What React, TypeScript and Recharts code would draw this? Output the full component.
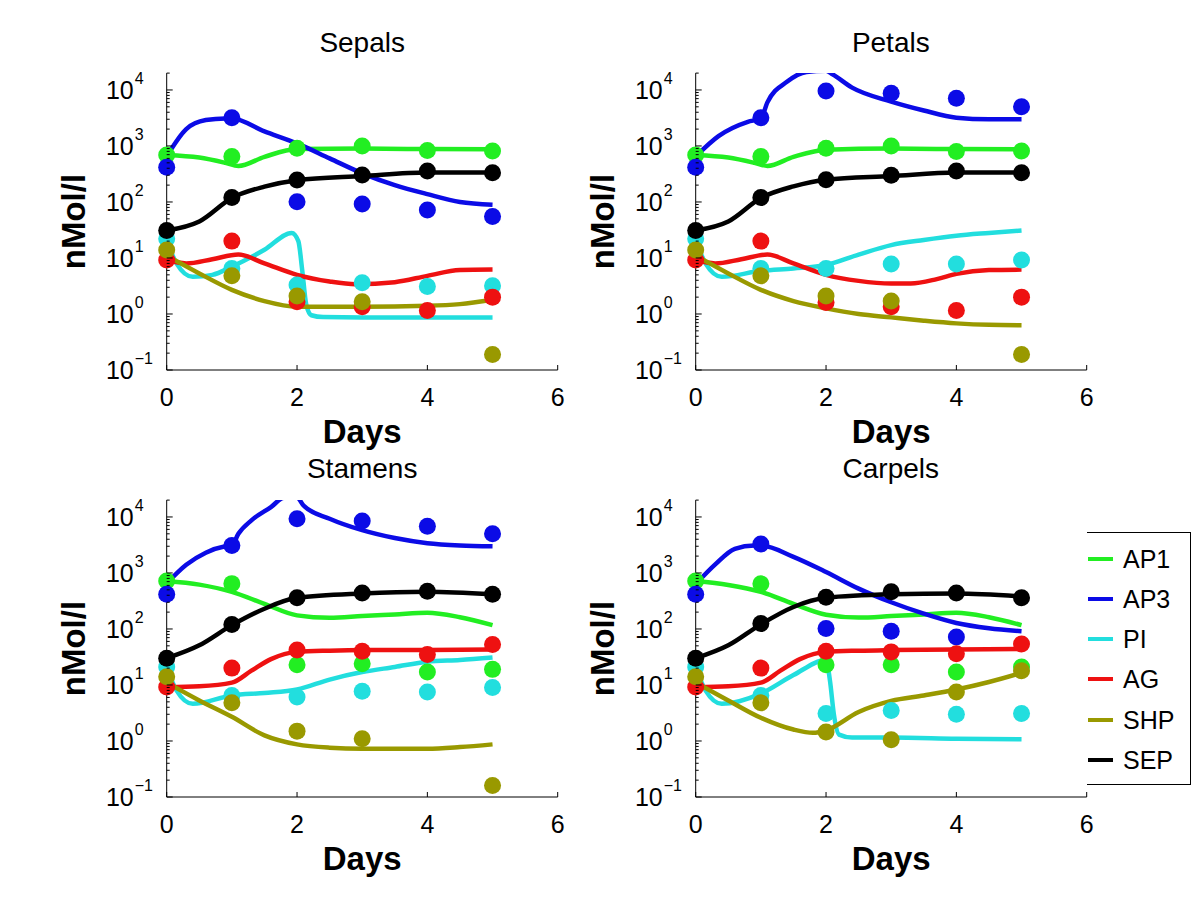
import { LineChart, Line, XAxis, YAxis } from 'recharts';

type Pt = [number, number];

const days = [0, 1, 2, 3, 4, 5];
const species = ['AP1', 'AP3', 'PI', 'AG', 'SHP', 'SEP'];
const colors: Record<string, string> = {
  AP1: '#22ee22',
  AP3: '#0b0be6',
  PI: '#22dede',
  AG: '#ee1111',
  SHP: '#999900',
  SEP: '#000000',
};
const xTicks = [0, 2, 4, 6];
const decades = [0.1, 1, 10, 100, 1000, 10000];
const minorSteps = [2, 3, 4, 5, 6, 7, 8, 9];
const yMax = 20000;

// measured points (one per day, null = no measurement)
const sepalsDots: Record<string, (number | null)[]> = {
  AP1: [690, 650, 910, 1000, 830, 815],
  AP3: [415, 3200, 101, 92, 72, 55],
  PI: [22, 6.5, 3.3, 3.6, 3.1, 3.2],
  AG: [9.2, 20, 1.66, 1.35, 1.15, 2.0],
  SHP: [13.9, 4.8, 2.1, 1.66, null, 0.19],
  SEP: [31, 120, 247, 303, 356, 333],
};
const petalsDots: Record<string, (number | null)[]> = {
  AP1: [690, 650, 910, 1000, 800, 815],
  AP3: [415, 3200, 9600, 8700, 7100, 5000],
  PI: [22, 6.5, 6.5, 7.8, 7.8, 9.2],
  AG: [9.2, 20, 1.6, 1.35, 1.15, 2.0],
  SHP: [13.9, 4.8, 2.1, 1.7, null, 0.19],
  SEP: [31, 120, 250, 300, 356, 333],
};
const stamensDots: Record<string, (number | null)[]> = {
  AP1: [720, 645, 23, 24, 17, 19],
  AP3: [415, 3100, 9300, 8500, 6800, 5000],
  PI: [21, 6.5, 6.1, 7.7, 7.5, 9],
  AG: [9.2, 20, 42, 40, 35, 53],
  SHP: [14, 4.8, 1.5, 1.1, null, 0.16],
  SEP: [30, 120, 360, 440, 470, 415],
};
const carpelsDots: Record<string, (number | null)[]> = {
  AP1: [720, 640, 23, 23, 17, 21],
  AP3: [415, 3300, 102, 91, 72, null],
  PI: [21, 6.5, 3.1, 3.5, 3.0, 3.1],
  AG: [9.2, 20, 40, 39, 36, 54],
  SHP: [14, 4.8, 1.45, 1.05, 7.5, 18],
  SEP: [30, 125, 370, 460, 440, 360],
};

// model curves as [day, nMol/l]
const sepalsCurves: Record<string, Pt[]> = {
  AP1: [[0, 690], [0.5, 620], [0.9, 500], [1.1, 440], [1.5, 640], [2, 880], [3, 900], [4, 880], [5, 870]],
  AP3: [[0, 650], [0.3, 2000], [0.6, 2900], [0.9, 3100], [1, 3100], [1.5, 1820], [2, 1110], [2.5, 600], [3, 325], [3.5, 200], [4, 138], [4.5, 100], [5, 89]],
  PI: [[0, 21], [0.15, 8], [0.4, 4.6], [0.7, 5], [1, 7], [1.5, 14], [1.92, 28], [2.02, 20], [2.08, 6], [2.14, 1.5], [2.22, 0.95], [2.4, 0.88], [3, 0.87], [4, 0.87], [5, 0.87]],
  AG: [[0, 9.2], [0.3, 8], [0.7, 9.5], [1.1, 11.5], [1.5, 8], [2, 5], [2.5, 3.8], [2.9, 3.4], [3.5, 3.7], [4, 4.8], [4.5, 6.1], [5, 6.2]],
  SHP: [[0, 11], [0.5, 5.3], [1, 2.7], [1.5, 1.7], [2, 1.35], [3, 1.35], [4, 1.4], [4.5, 1.5], [5, 1.8]],
  SEP: [[0, 31], [0.5, 45], [1, 118], [1.5, 188], [2, 245], [3, 290], [4, 335], [5, 335]],
};
const petalsCurves: Record<string, Pt[]> = {
  AP1: [[0, 690], [0.5, 620], [0.9, 500], [1.1, 440], [1.5, 640], [2, 860], [3, 900], [4, 880], [5, 870]],
  AP3: [[0, 650], [0.35, 1500], [0.8, 2700], [1, 3100], [1.1, 6000], [1.4, 14000], [1.7, 21000], [2, 22000], [2.1, 19000], [2.4, 11000], [3, 6200], [3.5, 4300], [4, 3200], [4.5, 3000], [5, 3000]],
  PI: [[0, 21], [0.15, 8], [0.4, 4.6], [1, 5.9], [1.5, 6.5], [2, 7.5], [2.5, 11.5], [3, 17], [3.5, 21], [4, 25], [4.5, 28], [5, 31]],
  AG: [[0, 9.2], [0.3, 8], [0.7, 9.5], [1.1, 11.5], [1.5, 8], [2, 5], [2.5, 3.9], [3, 3.5], [3.3, 3.5], [3.7, 4.2], [4, 5.2], [4.5, 6.1], [5, 6.2]],
  SHP: [[0, 11], [0.5, 5.3], [1, 2.7], [1.5, 1.7], [2, 1.26], [2.5, 1.0], [3, 0.87], [3.5, 0.76], [4, 0.68], [4.5, 0.64], [5, 0.63]],
  SEP: [[0, 31], [0.5, 45], [1, 118], [1.5, 190], [2, 250], [3, 290], [4, 335], [5, 335]],
};
const stamensCurves: Record<string, Pt[]> = {
  AP1: [[0, 720], [0.5, 620], [1, 460], [1.5, 280], [2, 175], [2.5, 158], [3, 170], [3.5, 182], [4, 195], [4.5, 162], [5, 117]],
  AP3: [[0, 650], [0.3, 1400], [0.6, 2300], [0.9, 3000], [1, 3100], [1.1, 5000], [1.3, 8700], [1.6, 15000], [1.8, 22000], [2, 22000], [2.1, 16000], [2.5, 9300], [3, 5800], [3.5, 4200], [4, 3400], [4.5, 3100], [5, 3000]],
  PI: [[0, 21], [0.15, 8], [0.4, 4.6], [1, 6.5], [1.5, 7.2], [2, 8.3], [2.5, 12.5], [3, 17], [3.5, 21], [4, 26], [4.5, 28], [5, 31]],
  AG: [[0, 9.2], [0.5, 9.5], [1, 11], [1.3, 18], [1.6, 29], [2, 39], [2.5, 41], [3, 42], [4, 42], [5, 43]],
  SHP: [[0, 11], [0.5, 5.3], [1, 2.7], [1.5, 1.26], [2, 0.87], [2.5, 0.76], [3, 0.73], [4, 0.73], [4.5, 0.78], [5, 0.87]],
  SEP: [[0, 30], [0.5, 51], [1, 117], [1.5, 230], [2, 360], [3, 430], [4, 460], [5, 415]],
};
const carpelsCurves: Record<string, Pt[]> = {
  AP1: [[0, 720], [0.5, 610], [1, 460], [1.5, 280], [2, 180], [2.5, 160], [3, 170], [3.5, 182], [4, 195], [4.5, 162], [5, 117]],
  AP3: [[0, 630], [0.3, 1420], [0.6, 2700], [0.9, 3100], [1, 3100], [1.5, 1940], [2, 1040], [2.5, 525], [3, 300], [3.5, 188], [4, 128], [4.5, 103], [5, 91]],
  PI: [[0, 21], [0.15, 8], [0.4, 4.6], [1, 7], [1.5, 15], [2, 28], [2.06, 12], [2.12, 3], [2.2, 1.3], [2.4, 1.15], [3, 1.15], [4, 1.1], [5, 1.07]],
  AG: [[0, 9.2], [0.5, 9.5], [1, 11], [1.3, 18], [1.6, 29], [2, 39], [2.5, 41], [3, 42], [4, 43], [5, 44]],
  SHP: [[0, 11], [0.5, 5.3], [1, 2.6], [1.5, 1.6], [1.8, 1.4], [2, 1.55], [2.5, 3.3], [3, 5.2], [3.5, 6.5], [4, 8.3], [4.5, 11.3], [5, 16.5]],
  SEP: [[0, 30], [0.5, 51], [1, 121], [1.5, 247], [2, 360], [3, 415], [4, 430], [5, 380]],
};

const FONT = '"Liberation Sans", Arial, Helvetica, sans-serif';

const panels = [
  { title: 'Sepals', curves: sepalsCurves, dots: sepalsDots, left: 40, top: 20 },
  { title: 'Petals', curves: petalsCurves, dots: petalsDots, left: 568.6, top: 20 },
  { title: 'Stamens', curves: stamensCurves, dots: stamensDots, left: 40, top: 446.7 },
  { title: 'Carpels', curves: carpelsCurves, dots: carpelsDots, left: 568.6, top: 446.7 },
];

const yTicks = decades.flatMap(d => [d, ...minorSteps.map(m => d * m)]).filter(v => v <= yMax);

function YTick(props: any) {
  const { x, y, payload } = props;
  const lg = Math.log10(payload.value);
  const exp = Math.round(lg);
  const major = Math.abs(lg - exp) < 1e-6;
  return (
    <g>
      <line x1={x} x2={x + (major ? 6 : 3)} y1={y} y2={y} stroke="#000" strokeWidth={1} />
      {major && (
        <>
          <text x={x - 33} y={y + 9} textAnchor="end" fontSize={25} fontFamily={FONT} fill="#000">10</text>
          <text x={x - 32} y={y - 6} textAnchor="start" fontSize={16} fontFamily={FONT} fill="#000">
            {exp === -1 ? '\u22121' : String(exp)}
          </text>
        </>
      )}
    </g>
  );
}

function XTick(props: any) {
  const { x, y, payload } = props;
  return (
    <g>
      <line x1={x} x2={x} y1={y} y2={y - 5} stroke="#000" strokeWidth={1} />
      <text x={x} y={y + 36} textAnchor="middle" fontSize={25} fontFamily={FONT} fill="#000">
        {payload.value}
      </text>
    </g>
  );
}

function Panel({ title, curves, dots, left, top }: typeof panels[number]) {
  return (
    <div style={{ position: 'absolute', left, top, width: 540, height: 440 }}>
      <LineChart width={540} height={440} margin={{ top: 53.1, right: 22.3, bottom: 60, left: 66.7 }}>
        <XAxis
          type="number"
          dataKey="x"
          domain={[0, 6]}
          ticks={xTicks}
          interval={0}
          tickSize={0}
          tickMargin={0}
          tickLine={false}
          tick={<XTick />}
          height={30}
          axisLine={{ stroke: '#000', strokeWidth: 1 }}
          allowDataOverflow
          label={(p: any) => {
            const vb = p.viewBox;
            return (
              <text x={vb.x + vb.width / 2} y={vb.y + 73.3} textAnchor="middle" fontSize={33} fontWeight="bold" fontFamily={FONT} fill="#000">
                Days
              </text>
            );
          }}
        />
        <YAxis
          type="number"
          dataKey="y"
          scale="log"
          domain={[0.1, yMax]}
          ticks={yTicks}
          interval={0}
          tickSize={0}
          tickMargin={0}
          tickLine={false}
          tick={<YTick />}
          width={60}
          axisLine={{ stroke: '#000', strokeWidth: 1 }}
          allowDataOverflow
          label={(p: any) => {
            const vb = p.viewBox;
            const cx = vb.x - 21.7;
            const cy = vb.y + vb.height / 2;
            return (
              <text x={cx} y={cy} transform={`rotate(-90, ${cx}, ${cy})`} textAnchor="middle" fontSize={33} fontWeight="bold" fontFamily={FONT} fill="#000">
                nMol/l
              </text>
            );
          }}
        />
        {species.map(s => (
          <Line
            key={`c-${s}`}
            data={curves[s].map(([x, y]) => ({ x, y }))}
            dataKey="y"
            type="monotone"
            stroke={colors[s]}
            strokeWidth={4.5}
            strokeLinejoin="round"
            dot={false}
            activeDot={false}
            isAnimationActive={false}
          />
        ))}
        {species.map(s => (
          <Line
            key={`d-${s}`}
            data={days
              .map((d, i) => ({ x: d, y: dots[s][i] }))
              .filter(p => p.y !== null)}
            dataKey="y"
            stroke="none"
            dot={{ r: 8.5, fill: colors[s], stroke: 'none', clipDot: false }}
            activeDot={false}
            isAnimationActive={false}
          />
        ))}
      </LineChart>
      <div
        style={{
          position: 'absolute',
          left: 0,
          width: 540,
          top: 32.3 - 23.7,
          paddingLeft: 126.7,
          paddingRight: 22.3,
          boxSizing: 'border-box',
          textAlign: 'center',
          fontFamily: FONT,
          fontSize: 28,
          lineHeight: '28px',
          color: '#000',
          whiteSpace: 'nowrap',
        }}
      >
        {title}
      </div>
    </div>
  );
}

export default function App() {
  return (
    <div style={{ position: 'absolute', left: 0, top: 0, width: 1200, height: 903, background: '#fff', overflow: 'hidden' }}>
      {panels.map(p => (
        <Panel key={p.title} {...p} />
      ))}
      <div
        style={{
          position: 'absolute',
          left: 1087,
          top: 532,
          width: 104,
          height: 253,
          background: '#fff',
          borderTop: '1px solid #000',
          borderRight: '1px solid #000',
          borderBottom: '1px solid #000',
          boxSizing: 'border-box',
        }}
      >
        {species.map((s, i) => (
          <div key={s} style={{ position: 'absolute', left: 0, top: 25.7 + i * 40.2 - 15, height: 30, display: 'flex', alignItems: 'center' }}>
            <div style={{ width: 25, height: 4, background: colors[s], marginLeft: 1 }} />
            <span style={{ marginLeft: 10, fontFamily: FONT, fontSize: 25, color: '#000', lineHeight: '30px' }}>{s}</span>
          </div>
        ))}
      </div>
    </div>
  );
}
